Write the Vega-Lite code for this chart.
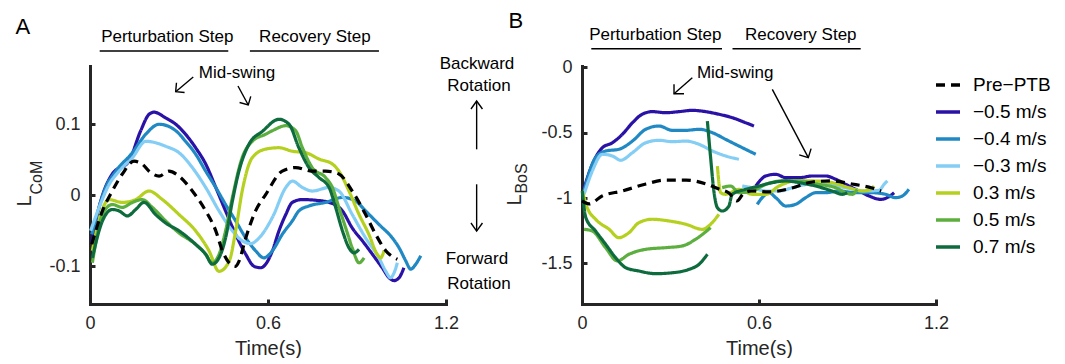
{
"$schema":"https://vega.github.io/schema/vega-lite/v6.json",
"background":"white",
"padding":{"left":14,"top":9,"right":0,"bottom":0},
"bounds":"flush",
"spacing":136,
"resolve":{"scale":{"x":"independent","y":"independent","color":"shared","strokeDash":"shared"},"legend":{"color":"shared","strokeDash":"shared"}},
"config":{
 "view":{"stroke":null},
 "font":"Liberation Sans",
 "axis":{"domainColor":"#262626","domainWidth":3,"domainCap":"square","tickColor":"#262626","tickWidth":3,"tickSize":-5,"labelFont":"Liberation Sans","labelFontSize":18,"labelColor":"#262626","labelPadding":15,"titleFont":"Liberation Sans","titleFontSize":20,"titleFontWeight":"normal","titleColor":"#262626","titlePadding":6,"grid":false,"labelFlush":false,"labelOverlap":false,"labelBound":false},
 "legend":{"symbolType":"stroke","symbolSize":576,"symbolStrokeWidth":3.5,"labelFontSize":19,"labelFont":"Liberation Sans","labelColor":"black","rowPadding":3,"labelOffset":11,"padding":0}
},
"datasets":{
"comA":[
{"series":"−0.5 m/s","t":0.006,"v":-0.067},{"series":"−0.5 m/s","t":0.030,"v":-0.018},{"series":"−0.5 m/s","t":0.075,"v":0.030},{"series":"−0.5 m/s","t":0.131,"v":0.048},{"series":"−0.5 m/s","t":0.171,"v":0.091},{"series":"−0.5 m/s","t":0.199,"v":0.114},{"series":"−0.5 m/s","t":0.216,"v":0.117},{"series":"−0.5 m/s","t":0.255,"v":0.109},{"series":"−0.5 m/s","t":0.289,"v":0.100},{"series":"−0.5 m/s","t":0.322,"v":0.086},{"series":"−0.5 m/s","t":0.356,"v":0.067},{"series":"−0.5 m/s","t":0.390,"v":0.044},{"series":"−0.5 m/s","t":0.424,"v":0.011},{"series":"−0.5 m/s","t":0.457,"v":-0.022},{"series":"−0.5 m/s","t":0.491,"v":-0.055},{"series":"−0.5 m/s","t":0.525,"v":-0.083},{"series":"−0.5 m/s","t":0.553,"v":-0.100},{"series":"−0.5 m/s","t":0.575,"v":-0.102},{"series":"−0.5 m/s","t":0.592,"v":-0.097},{"series":"−0.5 m/s","t":0.615,"v":-0.078},{"series":"−0.5 m/s","t":0.637,"v":-0.050},{"series":"−0.5 m/s","t":0.660,"v":-0.027},{"series":"−0.5 m/s","t":0.682,"v":-0.010},{"series":"−0.5 m/s","t":0.716,"v":-0.006},{"series":"−0.5 m/s","t":0.761,"v":-0.007},{"series":"−0.5 m/s","t":0.806,"v":-0.010},{"series":"−0.5 m/s","t":0.851,"v":-0.022},{"series":"−0.5 m/s","t":0.884,"v":-0.046},{"series":"−0.5 m/s","t":0.918,"v":-0.064},{"series":"−0.5 m/s","t":0.952,"v":-0.083},{"series":"−0.5 m/s","t":0.985,"v":-0.102},{"series":"−0.5 m/s","t":1.008,"v":-0.116},{"series":"−0.5 m/s","t":1.025,"v":-0.120},{"series":"−0.5 m/s","t":1.042,"v":-0.116},{"series":"−0.5 m/s","t":1.058,"v":-0.102},
{"series":"−0.4 m/s","t":0.006,"v":-0.055},{"series":"−0.4 m/s","t":0.053,"v":0.011},{"series":"−0.4 m/s","t":0.087,"v":0.034},{"series":"−0.4 m/s","t":0.143,"v":0.060},{"series":"−0.4 m/s","t":0.188,"v":0.086},{"series":"−0.4 m/s","t":0.233,"v":0.100},{"series":"−0.4 m/s","t":0.289,"v":0.091},{"series":"−0.4 m/s","t":0.322,"v":0.076},{"series":"−0.4 m/s","t":0.356,"v":0.058},{"series":"−0.4 m/s","t":0.390,"v":0.034},{"series":"−0.4 m/s","t":0.424,"v":0.011},{"series":"−0.4 m/s","t":0.457,"v":-0.013},{"series":"−0.4 m/s","t":0.491,"v":-0.036},{"series":"−0.4 m/s","t":0.525,"v":-0.060},{"series":"−0.4 m/s","t":0.558,"v":-0.078},{"series":"−0.4 m/s","t":0.586,"v":-0.088},{"series":"−0.4 m/s","t":0.615,"v":-0.078},{"series":"−0.4 m/s","t":0.648,"v":-0.055},{"series":"−0.4 m/s","t":0.682,"v":-0.036},{"series":"−0.4 m/s","t":0.704,"v":-0.022},{"series":"−0.4 m/s","t":0.738,"v":-0.015},{"series":"−0.4 m/s","t":0.794,"v":-0.010},{"series":"−0.4 m/s","t":0.851,"v":-0.003},{"series":"−0.4 m/s","t":0.895,"v":-0.008},{"series":"−0.4 m/s","t":0.929,"v":-0.022},{"series":"−0.4 m/s","t":0.974,"v":-0.041},{"series":"−0.4 m/s","t":1.019,"v":-0.060},{"series":"−0.4 m/s","t":1.042,"v":-0.074},{"series":"−0.4 m/s","t":1.064,"v":-0.092},{"series":"−0.4 m/s","t":1.081,"v":-0.104},{"series":"−0.4 m/s","t":1.098,"v":-0.097},{"series":"−0.4 m/s","t":1.115,"v":-0.085},
{"series":"−0.3 m/s","t":0.002,"v":-0.050},{"series":"−0.3 m/s","t":0.030,"v":-0.018},{"series":"−0.3 m/s","t":0.064,"v":0.015},{"series":"−0.3 m/s","t":0.098,"v":0.034},{"series":"−0.3 m/s","t":0.143,"v":0.053},{"series":"−0.3 m/s","t":0.188,"v":0.076},{"series":"−0.3 m/s","t":0.221,"v":0.074},{"series":"−0.3 m/s","t":0.255,"v":0.069},{"series":"−0.3 m/s","t":0.300,"v":0.060},{"series":"−0.3 m/s","t":0.345,"v":0.039},{"series":"−0.3 m/s","t":0.390,"v":0.011},{"series":"−0.3 m/s","t":0.435,"v":-0.022},{"series":"−0.3 m/s","t":0.480,"v":-0.050},{"series":"−0.3 m/s","t":0.513,"v":-0.064},{"series":"−0.3 m/s","t":0.542,"v":-0.068},{"series":"−0.3 m/s","t":0.570,"v":-0.060},{"series":"−0.3 m/s","t":0.615,"v":-0.031},{"series":"−0.3 m/s","t":0.660,"v":0.011},{"series":"−0.3 m/s","t":0.682,"v":0.020},{"series":"−0.3 m/s","t":0.716,"v":0.011},{"series":"−0.3 m/s","t":0.749,"v":0.006},{"series":"−0.3 m/s","t":0.806,"v":0.011},{"series":"−0.3 m/s","t":0.839,"v":0.006},{"series":"−0.3 m/s","t":0.884,"v":-0.027},{"series":"−0.3 m/s","t":0.929,"v":-0.060},{"series":"−0.3 m/s","t":0.974,"v":-0.088},{"series":"−0.3 m/s","t":0.997,"v":-0.107},{"series":"−0.3 m/s","t":1.013,"v":-0.116},{"series":"−0.3 m/s","t":1.025,"v":-0.109},{"series":"−0.3 m/s","t":1.036,"v":-0.095},
{"series":"0.3 m/s","t":0.008,"v":-0.078},{"series":"0.3 m/s","t":0.030,"v":-0.036},{"series":"0.3 m/s","t":0.064,"v":-0.006},{"series":"0.3 m/s","t":0.109,"v":-0.010},{"series":"0.3 m/s","t":0.154,"v":-0.006},{"series":"0.3 m/s","t":0.199,"v":0.006},{"series":"0.3 m/s","t":0.244,"v":-0.006},{"series":"0.3 m/s","t":0.300,"v":-0.027},{"series":"0.3 m/s","t":0.356,"v":-0.050},{"series":"0.3 m/s","t":0.401,"v":-0.078},{"series":"0.3 m/s","t":0.435,"v":-0.107},{"series":"0.3 m/s","t":0.469,"v":-0.093},{"series":"0.3 m/s","t":0.491,"v":-0.050},{"series":"0.3 m/s","t":0.513,"v":0.006},{"series":"0.3 m/s","t":0.547,"v":0.053},{"series":"0.3 m/s","t":0.592,"v":0.065},{"series":"0.3 m/s","t":0.637,"v":0.067},{"series":"0.3 m/s","t":0.682,"v":0.062},{"series":"0.3 m/s","t":0.727,"v":0.060},{"series":"0.3 m/s","t":0.772,"v":0.051},{"series":"0.3 m/s","t":0.817,"v":0.044},{"series":"0.3 m/s","t":0.839,"v":0.034},{"series":"0.3 m/s","t":0.873,"v":0.006},{"series":"0.3 m/s","t":0.907,"v":-0.027},{"series":"0.3 m/s","t":0.940,"v":-0.055},{"series":"0.3 m/s","t":0.968,"v":-0.083},{"series":"0.3 m/s","t":0.980,"v":-0.088},{"series":"0.3 m/s","t":0.991,"v":-0.078},
{"series":"0.5 m/s","t":0.008,"v":-0.095},{"series":"0.5 m/s","t":0.042,"v":-0.027},{"series":"0.5 m/s","t":0.075,"v":-0.013},{"series":"0.5 m/s","t":0.109,"v":-0.017},{"series":"0.5 m/s","t":0.143,"v":-0.010},{"series":"0.5 m/s","t":0.176,"v":-0.006},{"series":"0.5 m/s","t":0.210,"v":-0.017},{"series":"0.5 m/s","t":0.255,"v":-0.036},{"series":"0.5 m/s","t":0.300,"v":-0.053},{"series":"0.5 m/s","t":0.356,"v":-0.069},{"series":"0.5 m/s","t":0.390,"v":-0.083},{"series":"0.5 m/s","t":0.412,"v":-0.095},{"series":"0.5 m/s","t":0.435,"v":-0.083},{"series":"0.5 m/s","t":0.457,"v":-0.050},{"series":"0.5 m/s","t":0.480,"v":-0.003},{"series":"0.5 m/s","t":0.513,"v":0.053},{"series":"0.5 m/s","t":0.547,"v":0.076},{"series":"0.5 m/s","t":0.592,"v":0.086},{"series":"0.5 m/s","t":0.615,"v":0.091},{"series":"0.5 m/s","t":0.660,"v":0.098},{"series":"0.5 m/s","t":0.693,"v":0.091},{"series":"0.5 m/s","t":0.716,"v":0.067},{"series":"0.5 m/s","t":0.749,"v":0.039},{"series":"0.5 m/s","t":0.794,"v":0.025},{"series":"0.5 m/s","t":0.817,"v":0.011},{"series":"0.5 m/s","t":0.839,"v":-0.017},{"series":"0.5 m/s","t":0.862,"v":-0.046},{"series":"0.5 m/s","t":0.884,"v":-0.074},{"series":"0.5 m/s","t":0.907,"v":-0.095},{"series":"0.5 m/s","t":0.924,"v":-0.088},
{"series":"0.7 m/s","t":0.008,"v":-0.088},{"series":"0.7 m/s","t":0.042,"v":-0.036},{"series":"0.7 m/s","t":0.075,"v":-0.020},{"series":"0.7 m/s","t":0.098,"v":-0.022},{"series":"0.7 m/s","t":0.126,"v":-0.029},{"series":"0.7 m/s","t":0.154,"v":-0.020},{"series":"0.7 m/s","t":0.182,"v":-0.010},{"series":"0.7 m/s","t":0.221,"v":-0.027},{"series":"0.7 m/s","t":0.255,"v":-0.039},{"series":"0.7 m/s","t":0.300,"v":-0.050},{"series":"0.7 m/s","t":0.356,"v":-0.069},{"series":"0.7 m/s","t":0.390,"v":-0.083},{"series":"0.7 m/s","t":0.412,"v":-0.097},{"series":"0.7 m/s","t":0.435,"v":-0.088},{"series":"0.7 m/s","t":0.457,"v":-0.060},{"series":"0.7 m/s","t":0.480,"v":-0.008},{"series":"0.7 m/s","t":0.502,"v":0.034},{"series":"0.7 m/s","t":0.536,"v":0.072},{"series":"0.7 m/s","t":0.581,"v":0.090},{"series":"0.7 m/s","t":0.637,"v":0.107},{"series":"0.7 m/s","t":0.671,"v":0.100},{"series":"0.7 m/s","t":0.704,"v":0.067},{"series":"0.7 m/s","t":0.738,"v":0.039},{"series":"0.7 m/s","t":0.772,"v":0.025},{"series":"0.7 m/s","t":0.806,"v":0.011},{"series":"0.7 m/s","t":0.828,"v":-0.017},{"series":"0.7 m/s","t":0.851,"v":-0.050},{"series":"0.7 m/s","t":0.873,"v":-0.074},{"series":"0.7 m/s","t":0.890,"v":-0.081},{"series":"0.7 m/s","t":0.907,"v":-0.076},
{"series":"Pre−PTB","t":0.006,"v":-0.069},{"series":"Pre−PTB","t":0.042,"v":-0.022},{"series":"Pre−PTB","t":0.075,"v":0.006},{"series":"Pre−PTB","t":0.109,"v":0.030},{"series":"Pre−PTB","t":0.148,"v":0.048},{"series":"Pre−PTB","t":0.176,"v":0.044},{"series":"Pre−PTB","t":0.199,"v":0.034},{"series":"Pre−PTB","t":0.233,"v":0.027},{"series":"Pre−PTB","t":0.266,"v":0.034},{"series":"Pre−PTB","t":0.300,"v":0.027},{"series":"Pre−PTB","t":0.345,"v":0.006},{"series":"Pre−PTB","t":0.390,"v":-0.022},{"series":"Pre−PTB","t":0.424,"v":-0.050},{"series":"Pre−PTB","t":0.446,"v":-0.078},{"series":"Pre−PTB","t":0.469,"v":-0.095},{"series":"Pre−PTB","t":0.491,"v":-0.100},{"series":"Pre−PTB","t":0.502,"v":-0.093},{"series":"Pre−PTB","t":0.525,"v":-0.060},{"series":"Pre−PTB","t":0.558,"v":-0.022},{"series":"Pre−PTB","t":0.592,"v":0.001},{"series":"Pre−PTB","t":0.648,"v":0.034},{"series":"Pre−PTB","t":0.693,"v":0.039},{"series":"Pre−PTB","t":0.749,"v":0.034},{"series":"Pre−PTB","t":0.794,"v":0.034},{"series":"Pre−PTB","t":0.839,"v":0.030},{"series":"Pre−PTB","t":0.884,"v":0.006},{"series":"Pre−PTB","t":0.929,"v":-0.027},{"series":"Pre−PTB","t":0.963,"v":-0.055},{"series":"Pre−PTB","t":0.997,"v":-0.078},{"series":"Pre−PTB","t":1.036,"v":-0.090}
],
"bos":[
{"series":"−0.5 m/s","seg":1,"t":0.007,"v":-0.923},{"series":"−0.5 m/s","seg":1,"t":0.035,"v":-0.742},{"series":"−0.5 m/s","seg":1,"t":0.069,"v":-0.615},{"series":"−0.5 m/s","seg":1,"t":0.103,"v":-0.577},{"series":"−0.5 m/s","seg":1,"t":0.137,"v":-0.512},{"series":"−0.5 m/s","seg":1,"t":0.171,"v":-0.424},{"series":"−0.5 m/s","seg":1,"t":0.204,"v":-0.359},{"series":"−0.5 m/s","seg":1,"t":0.238,"v":-0.339},{"series":"−0.5 m/s","seg":1,"t":0.284,"v":-0.347},{"series":"−0.5 m/s","seg":1,"t":0.329,"v":-0.339},{"series":"−0.5 m/s","seg":1,"t":0.374,"v":-0.329},{"series":"−0.5 m/s","seg":1,"t":0.419,"v":-0.339},{"series":"−0.5 m/s","seg":1,"t":0.464,"v":-0.359},{"series":"−0.5 m/s","seg":1,"t":0.509,"v":-0.385},{"series":"−0.5 m/s","seg":1,"t":0.555,"v":-0.424},{"series":"−0.5 m/s","seg":1,"t":0.583,"v":-0.449},
{"series":"−0.5 m/s","seg":2,"t":0.589,"v":-0.908},{"series":"−0.5 m/s","seg":2,"t":0.623,"v":-0.831},{"series":"−0.5 m/s","seg":2,"t":0.657,"v":-0.818},{"series":"−0.5 m/s","seg":2,"t":0.691,"v":-0.844},{"series":"−0.5 m/s","seg":2,"t":0.736,"v":-0.844},{"series":"−0.5 m/s","seg":2,"t":0.781,"v":-0.831},{"series":"−0.5 m/s","seg":2,"t":0.826,"v":-0.831},{"series":"−0.5 m/s","seg":2,"t":0.860,"v":-0.856},{"series":"−0.5 m/s","seg":2,"t":0.894,"v":-0.895},{"series":"−0.5 m/s","seg":2,"t":0.939,"v":-0.946},{"series":"−0.5 m/s","seg":2,"t":0.973,"v":-0.984},{"series":"−0.5 m/s","seg":2,"t":1.013,"v":-1.010},{"series":"−0.5 m/s","seg":2,"t":1.040,"v":-0.990},{"series":"−0.5 m/s","seg":2,"t":1.058,"v":-0.959},
{"series":"−0.4 m/s","seg":1,"t":0.007,"v":-0.946},{"series":"−0.4 m/s","seg":1,"t":0.046,"v":-0.691},{"series":"−0.4 m/s","seg":1,"t":0.080,"v":-0.640},{"series":"−0.4 m/s","seg":1,"t":0.125,"v":-0.627},{"series":"−0.4 m/s","seg":1,"t":0.171,"v":-0.564},{"series":"−0.4 m/s","seg":1,"t":0.216,"v":-0.474},{"series":"−0.4 m/s","seg":1,"t":0.261,"v":-0.449},{"series":"−0.4 m/s","seg":1,"t":0.306,"v":-0.482},{"series":"−0.4 m/s","seg":1,"t":0.352,"v":-0.482},{"series":"−0.4 m/s","seg":1,"t":0.397,"v":-0.474},{"series":"−0.4 m/s","seg":1,"t":0.442,"v":-0.500},{"series":"−0.4 m/s","seg":1,"t":0.487,"v":-0.551},{"series":"−0.4 m/s","seg":1,"t":0.532,"v":-0.602},{"series":"−0.4 m/s","seg":1,"t":0.566,"v":-0.640},{"series":"−0.4 m/s","seg":1,"t":0.589,"v":-0.665},
{"series":"−0.4 m/s","seg":2,"t":0.594,"v":-1.048},{"series":"−0.4 m/s","seg":2,"t":0.611,"v":-0.997},{"series":"−0.4 m/s","seg":2,"t":0.634,"v":-0.959},{"series":"−0.4 m/s","seg":2,"t":0.657,"v":-0.997},{"series":"−0.4 m/s","seg":2,"t":0.691,"v":-1.061},{"series":"−0.4 m/s","seg":2,"t":0.724,"v":-1.048},{"series":"−0.4 m/s","seg":2,"t":0.758,"v":-0.997},{"series":"−0.4 m/s","seg":2,"t":0.792,"v":-0.959},{"series":"−0.4 m/s","seg":2,"t":0.826,"v":-0.959},{"series":"−0.4 m/s","seg":2,"t":0.871,"v":-0.946},{"series":"−0.4 m/s","seg":2,"t":0.928,"v":-0.959},{"series":"−0.4 m/s","seg":2,"t":0.984,"v":-0.959},{"series":"−0.4 m/s","seg":2,"t":1.029,"v":-0.971},{"series":"−0.4 m/s","seg":2,"t":1.063,"v":-0.997},{"series":"−0.4 m/s","seg":2,"t":1.086,"v":-0.984},{"series":"−0.4 m/s","seg":2,"t":1.108,"v":-0.933},
{"series":"−0.3 m/s","seg":1,"t":0.007,"v":-0.971},{"series":"−0.3 m/s","seg":1,"t":0.035,"v":-0.793},{"series":"−0.3 m/s","seg":1,"t":0.069,"v":-0.665},{"series":"−0.3 m/s","seg":1,"t":0.103,"v":-0.678},{"series":"−0.3 m/s","seg":1,"t":0.131,"v":-0.711},{"series":"−0.3 m/s","seg":1,"t":0.171,"v":-0.653},{"series":"−0.3 m/s","seg":1,"t":0.216,"v":-0.577},{"series":"−0.3 m/s","seg":1,"t":0.261,"v":-0.558},{"series":"−0.3 m/s","seg":1,"t":0.306,"v":-0.569},{"series":"−0.3 m/s","seg":1,"t":0.352,"v":-0.564},{"series":"−0.3 m/s","seg":1,"t":0.397,"v":-0.589},{"series":"−0.3 m/s","seg":1,"t":0.442,"v":-0.640},{"series":"−0.3 m/s","seg":1,"t":0.487,"v":-0.678},{"series":"−0.3 m/s","seg":1,"t":0.532,"v":-0.703},
{"series":"−0.3 m/s","seg":2,"t":0.543,"v":-0.908},{"series":"−0.3 m/s","seg":2,"t":0.577,"v":-0.921},{"series":"−0.3 m/s","seg":2,"t":0.623,"v":-0.946},{"series":"−0.3 m/s","seg":2,"t":0.668,"v":-0.946},{"series":"−0.3 m/s","seg":2,"t":0.713,"v":-0.921},{"series":"−0.3 m/s","seg":2,"t":0.769,"v":-0.895},{"series":"−0.3 m/s","seg":2,"t":0.826,"v":-0.895},{"series":"−0.3 m/s","seg":2,"t":0.894,"v":-0.921},{"series":"−0.3 m/s","seg":2,"t":0.962,"v":-0.946},{"series":"−0.3 m/s","seg":2,"t":1.007,"v":-0.941},{"series":"−0.3 m/s","seg":2,"t":1.024,"v":-0.895},{"series":"−0.3 m/s","seg":2,"t":1.035,"v":-0.869},
{"series":"0.3 m/s","seg":1,"t":0.001,"v":-0.946},{"series":"0.3 m/s","seg":1,"t":0.018,"v":-1.074},{"series":"0.3 m/s","seg":1,"t":0.046,"v":-1.162},{"series":"0.3 m/s","seg":1,"t":0.092,"v":-1.239},{"series":"0.3 m/s","seg":1,"t":0.125,"v":-1.303},{"series":"0.3 m/s","seg":1,"t":0.159,"v":-1.265},{"series":"0.3 m/s","seg":1,"t":0.193,"v":-1.188},{"series":"0.3 m/s","seg":1,"t":0.238,"v":-1.162},{"series":"0.3 m/s","seg":1,"t":0.295,"v":-1.175},{"series":"0.3 m/s","seg":1,"t":0.352,"v":-1.200},{"series":"0.3 m/s","seg":1,"t":0.408,"v":-1.239},{"series":"0.3 m/s","seg":1,"t":0.436,"v":-1.200},{"series":"0.3 m/s","seg":1,"t":0.464,"v":-1.124},
{"series":"0.3 m/s","seg":2,"t":0.459,"v":-0.755},{"series":"0.3 m/s","seg":2,"t":0.470,"v":-0.959},{"series":"0.3 m/s","seg":2,"t":0.487,"v":-0.971},{"series":"0.3 m/s","seg":2,"t":0.532,"v":-0.933},{"series":"0.3 m/s","seg":2,"t":0.577,"v":-0.971},{"series":"0.3 m/s","seg":2,"t":0.623,"v":-0.971},{"series":"0.3 m/s","seg":2,"t":0.668,"v":-0.908},{"series":"0.3 m/s","seg":2,"t":0.724,"v":-0.869},{"series":"0.3 m/s","seg":2,"t":0.781,"v":-0.869},{"series":"0.3 m/s","seg":2,"t":0.848,"v":-0.882},{"series":"0.3 m/s","seg":2,"t":0.905,"v":-0.921},{"series":"0.3 m/s","seg":2,"t":0.950,"v":-0.946},{"series":"0.3 m/s","seg":2,"t":0.979,"v":-0.933},{"series":"0.3 m/s","seg":2,"t":0.990,"v":-0.908},
{"series":"0.5 m/s","seg":1,"t":0.007,"v":-1.239},{"series":"0.5 m/s","seg":1,"t":0.035,"v":-1.252},{"series":"0.5 m/s","seg":1,"t":0.080,"v":-1.379},{"series":"0.5 m/s","seg":1,"t":0.120,"v":-1.481},{"series":"0.5 m/s","seg":1,"t":0.159,"v":-1.430},{"series":"0.5 m/s","seg":1,"t":0.216,"v":-1.392},{"series":"0.5 m/s","seg":1,"t":0.284,"v":-1.379},{"series":"0.5 m/s","seg":1,"t":0.340,"v":-1.366},{"series":"0.5 m/s","seg":1,"t":0.385,"v":-1.315},{"series":"0.5 m/s","seg":1,"t":0.436,"v":-1.226},
{"series":"0.5 m/s","seg":2,"t":0.475,"v":-0.920},{"series":"0.5 m/s","seg":2,"t":0.504,"v":-0.908},{"series":"0.5 m/s","seg":2,"t":0.532,"v":-0.959},{"series":"0.5 m/s","seg":2,"t":0.577,"v":-0.946},{"series":"0.5 m/s","seg":2,"t":0.623,"v":-0.895},{"series":"0.5 m/s","seg":2,"t":0.679,"v":-0.869},{"series":"0.5 m/s","seg":2,"t":0.736,"v":-0.869},{"series":"0.5 m/s","seg":2,"t":0.804,"v":-0.895},{"series":"0.5 m/s","seg":2,"t":0.860,"v":-0.921},{"series":"0.5 m/s","seg":2,"t":0.894,"v":-0.959},{"series":"0.5 m/s","seg":2,"t":0.916,"v":-0.971},{"series":"0.5 m/s","seg":2,"t":0.933,"v":-0.933},
{"series":"0.7 m/s","seg":1,"t":0.001,"v":-0.946},{"series":"0.7 m/s","seg":1,"t":0.013,"v":-1.150},{"series":"0.7 m/s","seg":1,"t":0.046,"v":-1.252},{"series":"0.7 m/s","seg":1,"t":0.080,"v":-1.353},{"series":"0.7 m/s","seg":1,"t":0.114,"v":-1.456},{"series":"0.7 m/s","seg":1,"t":0.148,"v":-1.532},{"series":"0.7 m/s","seg":1,"t":0.193,"v":-1.558},{"series":"0.7 m/s","seg":1,"t":0.250,"v":-1.578},{"series":"0.7 m/s","seg":1,"t":0.306,"v":-1.571},{"series":"0.7 m/s","seg":1,"t":0.363,"v":-1.545},{"series":"0.7 m/s","seg":1,"t":0.397,"v":-1.506},{"series":"0.7 m/s","seg":1,"t":0.425,"v":-1.430},
{"series":"0.7 m/s","seg":2,"t":0.425,"v":-0.411},{"series":"0.7 m/s","seg":2,"t":0.436,"v":-0.691},{"series":"0.7 m/s","seg":2,"t":0.447,"v":-0.946},{"series":"0.7 m/s","seg":2,"t":0.459,"v":-1.074},{"series":"0.7 m/s","seg":2,"t":0.476,"v":-1.099},{"series":"0.7 m/s","seg":2,"t":0.498,"v":-1.061},{"series":"0.7 m/s","seg":2,"t":0.509,"v":-0.971},{"series":"0.7 m/s","seg":2,"t":0.555,"v":-0.933},{"series":"0.7 m/s","seg":2,"t":0.600,"v":-0.908},{"series":"0.7 m/s","seg":2,"t":0.645,"v":-0.882},{"series":"0.7 m/s","seg":2,"t":0.691,"v":-0.869},{"series":"0.7 m/s","seg":2,"t":0.736,"v":-0.882},{"series":"0.7 m/s","seg":2,"t":0.792,"v":-0.908},{"series":"0.7 m/s","seg":2,"t":0.848,"v":-0.946},{"series":"0.7 m/s","seg":2,"t":0.882,"v":-0.971},{"series":"0.7 m/s","seg":2,"t":0.899,"v":-0.959},
{"series":"Pre−PTB","seg":1,"t":0.000,"v":-1.022},{"series":"Pre−PTB","seg":1,"t":0.024,"v":-1.045},{"series":"Pre−PTB","seg":1,"t":0.068,"v":-0.984},{"series":"Pre−PTB","seg":1,"t":0.136,"v":-0.946},{"series":"Pre−PTB","seg":1,"t":0.217,"v":-0.892},{"series":"Pre−PTB","seg":1,"t":0.285,"v":-0.862},{"series":"Pre−PTB","seg":1,"t":0.353,"v":-0.862},{"series":"Pre−PTB","seg":1,"t":0.420,"v":-0.892},{"series":"Pre−PTB","seg":1,"t":0.464,"v":-0.931},{"series":"Pre−PTB","seg":1,"t":0.498,"v":-0.961},{"series":"Pre−PTB","seg":1,"t":0.525,"v":-1.022},{"series":"Pre−PTB","seg":1,"t":0.546,"v":-0.969},{"series":"Pre−PTB","seg":1,"t":0.573,"v":-0.946},{"series":"Pre−PTB","seg":1,"t":0.634,"v":-0.953},{"series":"Pre−PTB","seg":1,"t":0.712,"v":-0.923},{"series":"Pre−PTB","seg":1,"t":0.780,"v":-0.877},{"series":"Pre−PTB","seg":1,"t":0.847,"v":-0.869},{"series":"Pre−PTB","seg":1,"t":0.915,"v":-0.892},{"series":"Pre−PTB","seg":1,"t":0.983,"v":-0.923},{"series":"Pre−PTB","seg":1,"t":1.014,"v":-0.946}
]
},
"hconcat":[
{
 "width":356,"height":238,
 "encoding":{
  "x":{"field":"t","type":"quantitative","scale":{"domain":[0,1.2],"nice":false,"zero":false},"axis":{"values":[0,0.6,1.2],"labelExpr":"datum.value < 0.3 ? '0' : (datum.value < 0.9 ? '0.6' : '1.2')","title":"Time(s)"}},
  "y":{"field":"v","type":"quantitative","scale":{"domain":[-0.153,0.182],"nice":false,"zero":false},"axis":{"values":[-0.1,0,0.1],"labelExpr":"datum.value < -0.05 ? '-0.1' : (datum.value > 0.05 ? '0.1' : '0')","title":null}}
 },
 "layer":[
  {"data":{"name":"comA"},"mark":{"type":"line","strokeWidth":3.2,"interpolate":"monotone"},
   "encoding":{
    "color":{"field":"series","type":"nominal","scale":{"domain":["Pre−PTB","−0.5 m/s","−0.4 m/s","−0.3 m/s","0.3 m/s","0.5 m/s","0.7 m/s"],"range":["#000000","#2b12a6","#2089c4","#84cdf5","#b6d020","#5cae3e","#0e6b3d"]},"legend":{"title":null,"orient":"none","legendX":844,"legendY":5}},
    "strokeDash":{"field":"series","type":"nominal","scale":{"domain":["Pre−PTB","−0.5 m/s","−0.4 m/s","−0.3 m/s","0.3 m/s","0.5 m/s","0.7 m/s"],"range":[[9,6],[1,0],[1,0],[1,0],[1,0],[1,0],[1,0]]},"legend":{"title":null,"orient":"none","legendX":844,"legendY":5}}
   }},
  {"data":{"values":[
    {"id":"u1","k":1,"t":0.0327,"v":0.2031},{"id":"u1","k":2,"t":0.4661,"v":0.2031},
    {"id":"u2","k":1,"t":0.539,"v":0.2031},{"id":"u2","k":2,"t":0.974,"v":0.2031},
    {"id":"a1","k":1,"t":0.348,"v":0.1665},{"id":"a1","k":2,"t":0.2888,"v":0.1458},
    {"id":"h1","k":1,"t":0.3188,"v":0.1447},{"id":"h1","k":2,"t":0.2888,"v":0.1458},{"id":"h1","k":3,"t":0.2915,"v":0.1585},
    {"id":"a2","k":1,"t":0.4988,"v":0.1538},{"id":"a2","k":2,"t":0.5335,"v":0.1271},
    {"id":"h2","k":1,"t":0.5419,"v":0.1392},{"id":"h2","k":2,"t":0.5335,"v":0.1271},{"id":"h2","k":3,"t":0.5042,"v":0.1306},
    {"id":"up","k":1,"t":1.3033,"v":0.0647},{"id":"up","k":2,"t":1.3033,"v":0.1327},
    {"id":"uh","k":1,"t":1.2842,"v":0.1215},{"id":"uh","k":2,"t":1.3033,"v":0.1327},{"id":"uh","k":3,"t":1.3229,"v":0.1215},
    {"id":"dn","k":1,"t":1.3033,"v":0.0155},{"id":"dn","k":2,"t":1.3033,"v":-0.0503},
    {"id":"dh","k":1,"t":1.2842,"v":-0.039},{"id":"dh","k":2,"t":1.3033,"v":-0.0503},{"id":"dh","k":3,"t":1.3229,"v":-0.039}
   ]},
   "mark":{"type":"line","strokeWidth":1.4,"color":"black"},
   "encoding":{"detail":{"field":"id","type":"nominal"},"order":{"field":"k","type":"quantitative"}}},
  {"data":{"values":[
    {"label":"Perturbation Step","t":0.2605,"v":0.216},
    {"label":"Recovery Step","t":0.758,"v":0.216},
    {"label":"Mid-swing","t":0.4955,"v":0.1655},
    {"label":"Backward","t":1.3043,"v":0.1774},
    {"label":"Rotation","t":1.311,"v":0.1468},
    {"label":"Forward","t":1.3043,"v":-0.0963},
    {"label":"Rotation","t":1.311,"v":-0.1315}
   ]},
   "mark":{"type":"text","fontSize":17,"align":"center","baseline":"alphabetic","color":"black","font":"Liberation Sans"},
   "encoding":{"text":{"field":"label"}}},
  {"data":{"values":[{"label":"A","t":-0.226,"v":0.227}]},
   "mark":{"type":"text","fontSize":22,"align":"center","baseline":"alphabetic","color":"black","font":"Liberation Sans"},
   "encoding":{"text":{"field":"label"}}},
  {"data":{"values":[{"label":"L","t":-0.199,"v":-0.008}]},
   "mark":{"type":"text","fontSize":20,"angle":270,"align":"center","baseline":"alphabetic","color":"#262626","font":"Liberation Sans"},
   "encoding":{"text":{"field":"label"}}},
  {"data":{"values":[{"label":"CoM","t":-0.162,"v":0.0248}]},
   "mark":{"type":"text","fontSize":16,"angle":270,"align":"center","baseline":"alphabetic","color":"#262626","font":"Liberation Sans"},
   "encoding":{"text":{"field":"label"}}}
 ]
},
{
 "width":354,"height":238,
 "encoding":{
  "x":{"field":"t","type":"quantitative","scale":{"domain":[0,1.2],"nice":false,"zero":false},"axis":{"values":[0,0.6,1.2],"labelExpr":"datum.value < 0.3 ? '0' : (datum.value < 0.9 ? '0.6' : '1.2')","title":"Time(s)"}},
  "y":{"field":"v","type":"quantitative","scale":{"domain":[-1.81,0.01],"nice":false,"zero":false},"axis":{"values":[-1.5,-1,-0.5,0],"labelExpr":"datum.value < -1.2 ? '-1.5' : (datum.value < -0.7 ? '-1' : (datum.value < -0.2 ? '-0.5' : '0'))","title":null}}
 },
 "layer":[
  {"data":{"name":"bos"},"mark":{"type":"line","strokeWidth":3.2,"interpolate":"monotone"},
   "encoding":{
    "detail":{"field":"seg","type":"nominal"},
    "color":{"field":"series","type":"nominal","scale":{"domain":["Pre−PTB","−0.5 m/s","−0.4 m/s","−0.3 m/s","0.3 m/s","0.5 m/s","0.7 m/s"],"range":["#000000","#2b12a6","#2089c4","#84cdf5","#b6d020","#5cae3e","#0e6b3d"]},"legend":{"title":null,"orient":"none","legendX":844,"legendY":5}},
    "strokeDash":{"field":"series","type":"nominal","scale":{"domain":["Pre−PTB","−0.5 m/s","−0.4 m/s","−0.3 m/s","0.3 m/s","0.5 m/s","0.7 m/s"],"range":[[9,6],[1,0],[1,0],[1,0],[1,0],[1,0],[1,0]]},"legend":{"title":null,"orient":"none","legendX":844,"legendY":5}}
   }},
  {"data":{"values":[
    {"id":"u1","k":1,"t":0.0315,"v":0.1423},{"id":"u1","k":2,"t":0.4746,"v":0.1423},
    {"id":"u2","k":1,"t":0.5102,"v":0.1423},{"id":"u2","k":2,"t":0.9447,"v":0.1423},
    {"id":"a1","k":1,"t":0.3739,"v":-0.0795},{"id":"a1","k":2,"t":0.3119,"v":-0.2018},
    {"id":"h1","k":1,"t":0.3458,"v":-0.2018},{"id":"h1","k":2,"t":0.3119,"v":-0.2018},{"id":"h1","k":3,"t":0.3119,"v":-0.1299},
    {"id":"a2","k":1,"t":0.6451,"v":-0.1682},{"id":"a2","k":2,"t":0.7671,"v":-0.6912},
    {"id":"h2","k":1,"t":0.7766,"v":-0.6216},{"id":"h2","k":2,"t":0.7671,"v":-0.6912},{"id":"h2","k":3,"t":0.7363,"v":-0.6698}
   ]},
   "mark":{"type":"line","strokeWidth":1.4,"color":"black"},
   "encoding":{"detail":{"field":"id","type":"nominal"},"order":{"field":"k","type":"quantitative"}}},
  {"data":{"values":[
    {"label":"Perturbation Step","t":0.2485,"v":0.2088},
    {"label":"Recovery Step","t":0.7417,"v":0.2088},
    {"label":"Mid-swing","t":0.5193,"v":-0.0841}
   ]},
   "mark":{"type":"text","fontSize":17,"align":"center","baseline":"alphabetic","color":"black","font":"Liberation Sans"},
   "encoding":{"text":{"field":"label"}}},
  {"data":{"values":[{"label":"B","t":-0.224,"v":0.3006}]},
   "mark":{"type":"text","fontSize":22,"align":"center","baseline":"alphabetic","color":"black","font":"Liberation Sans"},
   "encoding":{"text":{"field":"label"}}},
  {"data":{"values":[{"label":"L","t":-0.207,"v":-1.015}]},
   "mark":{"type":"text","fontSize":20,"angle":270,"align":"center","baseline":"alphabetic","color":"#262626","font":"Liberation Sans"},
   "encoding":{"text":{"field":"label"}}},
  {"data":{"values":[{"label":"BoS","t":-0.186,"v":-0.85}]},
   "mark":{"type":"text","fontSize":16,"angle":270,"align":"center","baseline":"alphabetic","color":"#262626","font":"Liberation Sans"},
   "encoding":{"text":{"field":"label"}}}
 ]
}
]
}
